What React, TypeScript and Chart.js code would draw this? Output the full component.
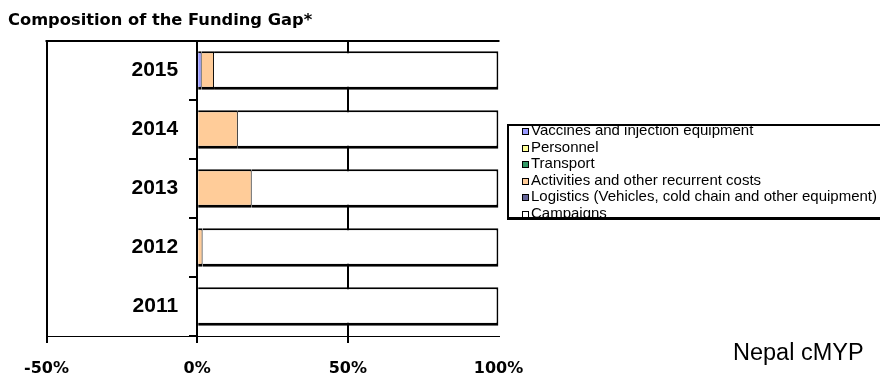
import React, { useEffect, useRef } from 'react';
import { Chart, registerables } from 'chart.js';

Chart.register(...registerables);

const TITLE = 'Composition of the Funding Gap*';
const SOURCE = 'Nepal cMYP';
const categories = ['2015', '2014', '2013', '2012', '2011'];
const seriesNames = [
  'Vaccines and injection equipment',
  'Personnel',
  'Transport',
  'Activities and other recurrent costs',
  'Logistics (Vehicles, cold chain and other equipment)',
  'Campaigns',
];
const vaccines = [1.5, 0, 0, 0, 0];
const personnel = [0, 0, 0, 0, 0];
const transport = [0, 0, 0, 0, 0];
const activities = [4.1, 13.5, 18.1, 1.8, 0];
const logistics = [0, 0, 0, 0, 0];
const campaigns = [94.4, 86.5, 81.9, 98.2, 100];
const xMin = -50;
const xMax = 100;
const xStep = 50;
const seriesColors = ['#9999FF', '#FFFF99', '#339966', '#FFCC99', '#666699', '#FFFFFF'];

const Y_LABEL_GAP = 19;

const yLabelShiftPlugin = {
  id: 'yLabelShift',
  beforeDraw(chart: any) {
    const scale = chart.scales.y;
    const items = scale.getLabelItems(chart.chartArea);
    if (items && !items.__shifted) {
      items.forEach((it: any) => {
        it.options.translation = [it.options.translation[0] - Y_LABEL_GAP, it.options.translation[1]];
      });
      items.__shifted = true;
    }
  },
};

const decorPlugin = {
  id: 'decor',
  afterDraw(chart: any) {
    const { ctx, chartArea } = chart;
    ctx.save();
    ctx.strokeStyle = '#000';
    ctx.lineWidth = 2;
    ctx.beginPath();
    ctx.moveTo(chartArea.left - 1, chartArea.top);
    ctx.lineTo(chartArea.right + 1, chartArea.top);
    ctx.stroke();

    ctx.fillStyle = '#000';
    ctx.font = 'bold 16.3px "DejaVu Sans"';
    ctx.textBaseline = 'alphabetic';
    ctx.textAlign = 'left';
    ctx.fillText(TITLE, 8, 25);

    ctx.font = '23.5px "Liberation Sans"';
    ctx.fillText(SOURCE, 733, 360);

    const bx = 507, by = 124, bw = 400, bh = 96;
    ctx.save();
    ctx.beginPath();
    ctx.rect(bx, by, bw, bh);
    ctx.clip();
    ctx.fillStyle = '#fff';
    ctx.fillRect(bx, by, bw, bh);
    ctx.font = '15px "Liberation Sans"';
    ctx.textBaseline = 'middle';
    chart.data.datasets.forEach((ds: any, i: number) => {
      const y = 131 + i * 16.5;
      ctx.fillStyle = ds.backgroundColor;
      ctx.fillRect(522, Math.round(y) - 3, 7, 7);
      ctx.strokeStyle = '#000';
      ctx.lineWidth = 1;
      ctx.strokeRect(522.5, Math.round(y) - 2.5, 6, 6);
      ctx.fillStyle = '#000';
      ctx.fillText(ds.label, 531, y);
    });
    ctx.restore();
    ctx.strokeStyle = '#000';
    ctx.lineWidth = 2;
    ctx.beginPath();
    ctx.moveTo(bx + 1, by + bh);
    ctx.lineTo(bx + 1, by + 1);
    ctx.lineTo(bx + bw, by + 1);
    ctx.stroke();
    ctx.lineWidth = 3;
    ctx.beginPath();
    ctx.moveTo(bx, by + bh - 1.5);
    ctx.lineTo(bx + bw, by + bh - 1.5);
    ctx.stroke();
    ctx.restore();
  },
};

export default function App() {
  const ref = useRef<HTMLCanvasElement>(null);
  useEffect(() => {
    if (!ref.current) return;
    const seriesData = [vaccines, personnel, transport, activities, logistics, campaigns];
    const chart = new Chart(ref.current, {
      type: 'bar',
      data: {
        labels: categories,
        datasets: seriesNames.map((name, i) => ({
          label: name,
          data: seriesData[i],
          backgroundColor: seriesColors[i],
          borderColor: '#000',
          borderWidth: i === 5 ? { top: 2, bottom: 3, left: 0, right: 2 } : { top: 2, bottom: 3, left: 0, right: 1 },
          borderSkipped: false,
          barPercentage: 0.65,
          categoryPercentage: 1,
        })),
      },
      options: {
        indexAxis: 'y',
        responsive: false,
        animation: false,
        layout: { padding: { left: 46.5, right: 381.5, top: 41, bottom: 0 } },
        plugins: { legend: { display: false }, tooltip: { enabled: false }, title: { display: false } },
        scales: {
          x: {
            type: 'linear',
            stacked: true,
            min: xMin,
            max: xMax,
            afterFit: (s: any) => { s.height = 40; },
            ticks: {
              stepSize: xStep,
              autoSkip: false,
              maxRotation: 0,
              padding: 16,
              color: '#000',
              font: { family: '"DejaVu Sans"', weight: 'bold', size: 16 },
              callback: (v: any) => v + '%',
            },
            grid: {
              color: (c: any) => (c.tick && c.tick.value === xMax ? 'rgba(0,0,0,0)' : '#000'),
              lineWidth: 2,
              tickLength: 7,
              drawOnChartArea: true,
            },
            border: { display: true, color: '#000', width: 1 },
          },
          y: {
            type: 'category',
            stacked: true,
            position: { x: 0 } as any,
            ticks: {
              padding: 11,
              color: '#000',
              font: { family: '"Liberation Sans"', weight: 'bold', size: 21 },
            },
            grid: {
              offset: true,
              drawOnChartArea: false,
              tickLength: 7,
              color: '#000',
              lineWidth: 2,
            },
            border: { display: true, color: '#000', width: 2 },
          },
        },
      },
      plugins: [yLabelShiftPlugin, decorPlugin],
    });
    return () => chart.destroy();
  }, []);
  return (
    <div style={{ position: 'absolute', left: 0, top: 0, width: 880, height: 376, background: '#fff' }}>
      <canvas ref={ref} width={880} height={376} style={{ display: 'block' }} />
    </div>
  );
}
